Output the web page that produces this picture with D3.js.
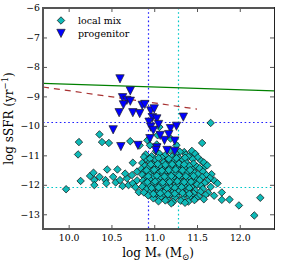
<!DOCTYPE html>
<html><head><meta charset="utf-8">
<script src="https://cdn.jsdelivr.net/npm/d3@7"></script>
<style>
html,body{margin:0;padding:0;background:#fff;}
svg{display:block;font-family:"DejaVu Serif",serif;}
</style></head>
<body>
<svg id="c" width="282" height="266"></svg>
<script>
// ---- data ----
const xTicks = [10.0, 10.5, 11.0, 11.5, 12.0];
const yTicks = [-13, -12, -11, -10, -9, -8, -7, -6];
const seriesNames = ["local mix", "progenitor"];

const localMix = [
  [9.97,-12.15],[10.11,-10.97],[10.12,-10.55],[10.14,-11.87],[10.36,-10.29],[10.39,-10.55],[10.47,-10.58],
  [10.25,-11.70],[10.29,-11.59],[10.30,-11.84],[10.30,-12.01],[10.36,-11.73],[10.43,-11.84],[10.45,-11.48],
  [10.44,-11.95],[10.52,-11.73],[10.57,-11.48],[10.55,-11.92],[10.60,-11.84],[10.63,-12.04],[10.68,-11.78],
  [10.70,-12.01],[10.74,-11.67],[10.75,-11.25],[10.75,-11.95],[10.72,-10.52],[10.83,-10.66],[10.80,-11.85],
  [10.78,-12.08],[10.66,-11.62],[10.80,-11.55],[10.82,-12.25],[11.06,-10.04],[11.04,-10.32],[10.92,-10.49],
  [10.95,-10.66],[11.03,-10.63],[11.19,-10.43],[11.26,-10.66],[11.56,-10.58],[11.66,-9.90],[11.35,-10.89],
  [11.42,-11.00],[11.58,-11.42],[11.67,-11.64],[11.70,-11.85],[11.74,-11.95],[11.79,-12.26],[11.88,-12.50],
  [11.99,-12.70],[12.17,-13.04],[12.24,-12.44],[11.79,-12.51],
  [11.02,-10.86],[11.18,-10.83],[11.30,-10.88],[11.44,-10.85],
  [10.90,-10.97],[11.06,-10.94],[11.13,-10.99],[11.25,-10.93],[11.37,-10.98],[11.48,-10.95],
  [10.88,-11.06],[10.97,-11.03],[11.09,-11.08],[11.21,-11.04],[11.29,-11.09],[11.40,-11.05],[11.51,-11.07],
  [10.92,-11.16],[11.01,-11.13],[11.14,-11.18],[11.23,-11.14],[11.33,-11.17],[11.45,-11.13],[11.55,-11.19],
  [10.86,-11.26],[10.95,-11.23],[11.05,-11.28],[11.11,-11.24],[11.19,-11.27],[11.27,-11.22],[11.38,-11.26],[11.46,-11.28],[11.58,-11.24],
  [10.89,-11.36],[10.99,-11.33],[11.08,-11.38],[11.16,-11.34],[11.24,-11.37],[11.31,-11.32],[11.41,-11.36],[11.50,-11.39],[11.62,-11.34],
  [10.85,-11.46],[10.93,-11.43],[11.03,-11.48],[11.12,-11.44],[11.20,-11.47],[11.28,-11.42],[11.36,-11.46],[11.45,-11.49],[11.53,-11.44],
  [10.88,-11.56],[10.97,-11.53],[11.06,-11.58],[11.14,-11.54],[11.22,-11.57],[11.30,-11.52],[11.39,-11.56],[11.47,-11.59],[11.57,-11.55],
  [10.86,-11.66],[10.94,-11.63],[11.01,-11.68],[11.10,-11.64],[11.18,-11.67],[11.26,-11.62],[11.34,-11.66],[11.43,-11.69],[11.51,-11.64],[11.61,-11.67],
  [10.90,-11.76],[10.98,-11.73],[11.07,-11.78],[11.15,-11.74],[11.23,-11.77],[11.31,-11.72],[11.40,-11.76],[11.48,-11.79],[11.56,-11.74],[11.65,-11.77],
  [10.87,-11.86],[10.95,-11.83],[11.04,-11.88],[11.12,-11.84],[11.20,-11.87],[11.28,-11.82],[11.37,-11.86],[11.45,-11.89],[11.53,-11.84],[11.62,-11.87],
  [10.89,-11.96],[10.99,-11.93],[11.08,-11.98],[11.16,-11.94],[11.25,-11.97],[11.33,-11.92],[11.41,-11.96],[11.50,-11.99],[11.59,-11.94],
  [10.86,-12.06],[10.94,-12.03],[11.02,-12.08],[11.11,-12.04],[11.19,-12.07],[11.27,-12.02],[11.36,-12.06],[11.44,-12.09],[11.55,-12.04],[11.66,-12.07],
  [10.91,-12.16],[10.98,-12.13],[11.06,-12.18],[11.14,-12.14],[11.22,-12.17],[11.31,-12.12],[11.39,-12.16],[11.48,-12.19],[11.57,-12.14],
  [10.88,-12.26],[10.96,-12.23],[11.03,-12.28],[11.12,-12.24],[11.21,-12.27],[11.29,-12.22],[11.38,-12.26],[11.46,-12.29],[11.54,-12.24],[11.63,-12.27],
  [10.93,-12.36],[11.01,-12.33],[11.09,-12.38],[11.18,-12.34],[11.26,-12.37],[11.35,-12.32],[11.43,-12.36],[11.52,-12.39],[11.60,-12.34],[11.70,-12.37],
  [10.99,-12.46],[11.07,-12.43],[11.15,-12.48],[11.24,-12.44],[11.33,-12.47],[11.41,-12.42],[11.49,-12.46],[11.58,-12.49],
  [11.05,-12.56],[11.13,-12.53],[11.22,-12.58],[11.31,-12.54],[11.40,-12.57],[11.47,-12.52],
  [11.20,-12.63],[11.36,-12.61],
  [10.95,-11.11],[11.05,-11.09],[11.17,-11.12],[11.26,-11.10],[11.36,-11.08],
  [10.96,-11.31],[11.04,-11.29],[11.13,-11.32],[11.21,-11.30],[11.29,-11.28],[11.35,-11.31],
  [10.91,-11.51],[11.00,-11.49],[11.09,-11.52],[11.17,-11.50],[11.25,-11.48],[11.33,-11.51],[11.42,-11.50],
  [10.93,-11.71],[11.03,-11.69],[11.12,-11.72],[11.20,-11.70],[11.29,-11.68],[11.37,-11.71],[11.46,-11.70],
  [10.92,-11.91],[11.01,-11.89],[11.10,-11.92],[11.18,-11.90],[11.27,-11.88],[11.35,-11.91],[11.43,-11.90],
  [10.97,-12.11],[11.05,-12.09],[11.15,-12.12],[11.24,-12.10],[11.32,-12.08],[11.41,-12.11],
  [10.99,-12.31],[11.07,-12.29],[11.16,-12.32],[11.24,-12.30],[11.33,-12.28],[11.41,-12.31]
];

const progenitor = [
  [10.60,-8.40],[10.72,-8.81],[10.63,-9.04],[10.68,-9.13],[10.72,-9.16],[10.64,-9.28],[10.59,-9.55],
  [10.75,-9.55],[10.83,-9.58],[10.86,-9.30],[10.89,-9.27],[10.96,-9.49],[11.00,-9.42],[10.98,-9.72],
  [11.34,-9.70],[10.52,-10.13],[10.61,-10.70],[10.94,-9.87],[11.03,-9.76],[10.96,-10.04],[11.05,-9.95],
  [10.99,-10.15],[11.19,-10.09],[11.26,-10.01],[10.95,-10.43],[11.12,-10.49],[11.24,-10.51],[11.17,-10.29],
  [10.81,-10.66],[11.03,-10.74],[11.02,-10.83],[11.15,-10.83],[11.24,-10.86],[11.07,-10.32]
];

// reference lines
const greenLineX = [9.7, 12.4], greenLineY = [-8.56, -8.81];
const redLineX = [9.7, 11.5], redLineY = [-8.68, -9.43];
const blueHLine = -9.87, blueVLine = 10.93;
const cyanHLine = -12.07, cyanVLine = 11.28;

// ---- drawing ----
const svg = d3.select("#c");
const L = 43, R = 274, T = 8, B = 229;
const x = d3.scaleLinear().domain([9.7, 12.4]).range([L, R]);
const y = d3.scaleLinear().domain([-13.5, -6]).range([B, T]);

const plot = svg.append("g");
svg.append("clipPath").attr("id","clp").append("rect")
  .attr("x",L).attr("y",T).attr("width",R-L).attr("height",B-T);
const pg = plot.append("g").attr("clip-path","url(#clp)");

const px = v => Math.round(v) + 0.5;
// dotted lines
const dot = "1.6,2.6";
pg.append("line").attr("x1",L).attr("x2",R).attr("y1",px(y(blueHLine))).attr("y2",px(y(blueHLine)))
  .attr("stroke","#2020ff").attr("stroke-width",1.2).attr("stroke-dasharray",dot);
pg.append("line").attr("x1",px(x(blueVLine))).attr("x2",px(x(blueVLine))).attr("y1",T).attr("y2",B)
  .attr("stroke","#2020ff").attr("stroke-width",1.2).attr("stroke-dasharray",dot);
pg.append("line").attr("x1",L).attr("x2",R).attr("y1",px(y(cyanHLine))).attr("y2",px(y(cyanHLine)))
  .attr("stroke","#00c8c8").attr("stroke-width",1.2).attr("stroke-dasharray",dot);
pg.append("line").attr("x1",px(x(cyanVLine))).attr("x2",px(x(cyanVLine))).attr("y1",T).attr("y2",B)
  .attr("stroke","#00c8c8").attr("stroke-width",1.2).attr("stroke-dasharray",dot);

const line = d3.line().x(d=>x(d[0])).y(d=>y(d[1]));
pg.append("path").datum(greenLineX.map((v,i)=>[v,greenLineY[i]])).attr("d",line)
  .attr("fill","none").attr("stroke","#008000").attr("stroke-width",1.3);
pg.append("path").datum(redLineX.map((v,i)=>[v,redLineY[i]])).attr("d",line)
  .attr("fill","none").attr("stroke","#a83232").attr("stroke-width",1.2).attr("stroke-dasharray","6,5");

// markers
const diamond = d3.symbol().type(d3.symbolSquare).size(28);
const triPath = "M-4.2,-4L4.2,-4L0,4.2Z";
const fillC = "#0fbab8";

pg.append("g").selectAll("path").data(localMix).join("path")
  .attr("d", diamond())
  .attr("transform", d=>`translate(${x(d[0])},${y(d[1])}) rotate(45)`)
  .attr("fill", fillC).attr("stroke","#111").attr("stroke-width",0.7);

pg.append("g").selectAll("path").data(progenitor).join("path")
  .attr("d", triPath)
  .attr("transform", d=>`translate(${x(d[0])},${y(d[1])})`)
  .attr("fill", "#0000ff").attr("stroke","#222").attr("stroke-width",0.7);

// axes with inward ticks
const fs = 9.3;
const axB = svg.append("g").attr("transform",`translate(0,${B})`)
  .call(d3.axisBottom(x).tickValues(xTicks).tickFormat(d3.format(".1f")).tickSizeInner(-4).tickSizeOuter(0).tickPadding(5));
const axT = svg.append("g").attr("transform",`translate(0,${T})`)
  .call(d3.axisTop(x).tickValues(xTicks).tickFormat("").tickSizeInner(-4).tickSizeOuter(0));
const axL = svg.append("g").attr("transform",`translate(${L},0)`)
  .call(d3.axisLeft(y).tickValues(yTicks).tickFormat(d3.format("d")).tickSizeInner(-4).tickSizeOuter(0).tickPadding(3));
const axR = svg.append("g").attr("transform",`translate(${R},0)`)
  .call(d3.axisRight(y).tickValues(yTicks).tickFormat("").tickSizeInner(-4).tickSizeOuter(0));
[axB,axT,axL,axR].forEach(a=>{
  a.select(".domain").remove();
  a.selectAll(".tick line").attr("stroke","#555").attr("stroke-width",1);
  a.selectAll("text").attr("font-family","DejaVu Serif").attr("font-size",fs).attr("fill","#000");
});

// spines
svg.append("line").attr("x1",L).attr("x2",L).attr("y1",T-1).attr("y2",B+1).attr("stroke","#555").attr("stroke-width",2);
svg.append("line").attr("x1",L).attr("x2",R).attr("y1",B).attr("y2",B).attr("stroke","#555").attr("stroke-width",2);
svg.append("line").attr("x1",L).attr("x2",R).attr("y1",T).attr("y2",T).attr("stroke","#555").attr("stroke-width",2);
svg.append("line").attr("x1",R+0.5).attr("x2",R+0.5).attr("y1",T-1).attr("y2",B+1).attr("stroke","#222").attr("stroke-width",1);

// axis labels
const yl = svg.append("text").attr("transform",`translate(13,${(T+B)/2}) rotate(-90)`)
  .attr("text-anchor","middle").attr("font-size",12).attr("fill","#000");
yl.append("tspan").text("log sSFR (yr");
yl.append("tspan").attr("font-size",8.5).attr("dy",-5).text("−1");
yl.append("tspan").attr("dy",5).text(")");

const xl = svg.append("text").attr("x",158).attr("y",257)
  .attr("text-anchor","middle").attr("font-size",12).attr("fill","#000");
xl.append("tspan").text("log M");
xl.append("tspan").attr("font-size",8.5).attr("dy",3).text("*");
xl.append("tspan").attr("dy",-3).text(" (M");
xl.append("tspan").attr("font-size",8.5).attr("dy",3).text("⊙");
xl.append("tspan").attr("dy",-3).text(")");

// legend
const lg = svg.append("g");
lg.append("path").attr("d",diamond()).attr("transform","translate(61,20.5) rotate(45)")
  .attr("fill",fillC).attr("stroke","#111").attr("stroke-width",0.7);
lg.append("path").attr("d",triPath).attr("transform","translate(61,33.3)")
  .attr("fill","#0000ff").attr("stroke","#222").attr("stroke-width",0.7);
lg.append("text").attr("x",78).attr("y",20.5).attr("dy","0.35em").attr("font-size",9.5).text(seriesNames[0]);
lg.append("text").attr("x",78).attr("y",33.3).attr("dy","0.35em").attr("font-size",9.5).text(seriesNames[1]);
</script>
</body></html>
